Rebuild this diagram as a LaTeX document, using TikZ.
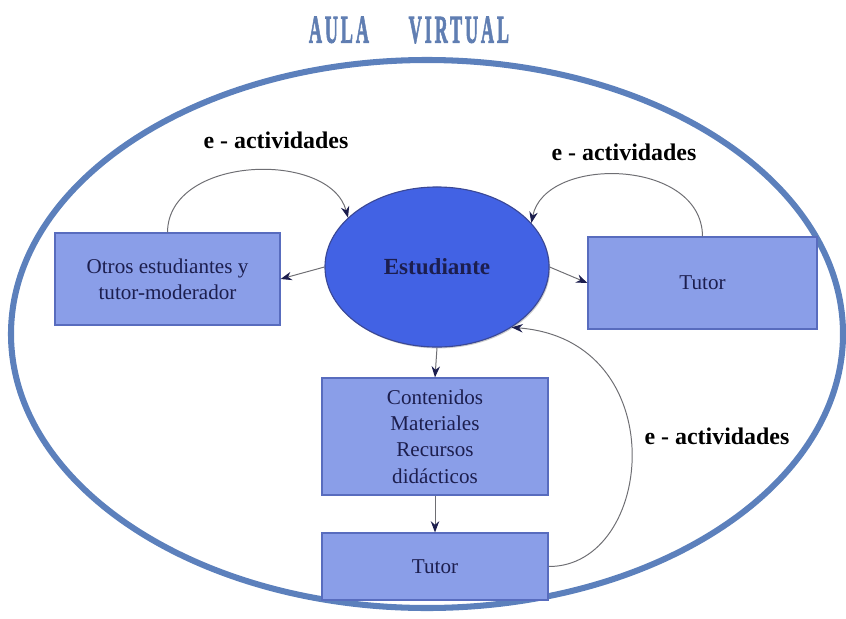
\documentclass[tikz,border=0pt]{standalone}
\usepackage{fontspec}
\setmainfont{Liberation Serif}[BoldFont={Liberation Serif Bold}]
\newfontfamily\titlefont[LetterSpace=16,FakeBold=2.5]{Liberation Serif Bold}
\usetikzlibrary{positioning,shapes.geometric,arrows.meta,shadows}

\definecolor{bordeaula}{RGB}{92,128,188}
\definecolor{cajaazul}{RGB}{138,158,232}
\definecolor{bordecaja}{RGB}{88,108,190}
\definecolor{elipseazul}{RGB}{66,98,228}
\definecolor{bordeelipse}{RGB}{58,72,150}
\definecolor{tinta}{RGB}{28,30,78}
\definecolor{gris}{RGB}{110,110,115}
\definecolor{titulo}{RGB}{96,126,178}

\tikzset{
  caja/.style={draw=bordecaja, fill=cajaazul, line width=0.8pt, align=center,
    inner sep=0pt, text=tinta, font=\fontsize{15}{18.8}\selectfont,
    drop shadow={shadow xshift=0.7pt, shadow yshift=-0.9pt, opacity=0.45}},
  flecha/.style={draw=gris, line width=0.7pt,
    -{Stealth[length=8pt,width=6pt,color=tinta]}},
  etiqueta/.style={font=\bfseries\fontsize{17}{20}\selectfont, text=black}
}

\begin{document}
\begin{tikzpicture}[x=0.025cm,y=-0.025cm]
	\useasboundingbox (0,0) rectangle (846,618);
	%Title and frame
	\node[text=titulo] (titulo) at (409,30)
		{\scalebox{0.46}[1]{\titlefont\fontsize{28}{30}\selectfont AULA\hspace{2.2em}VIRTUAL}};
	\draw[bordeaula, line width=4.3pt] (427,334) ellipse [x radius=416, y radius=274];
	%Nodes
	\node[ellipse, draw=bordeelipse, fill=elipseazul, line width=0.8pt,
		minimum width=5.6cm, minimum height=4cm, inner sep=0pt, text=tinta,
		font=\bfseries\fontsize{16.4}{20}\selectfont,
		drop shadow={shadow xshift=0.8pt, shadow yshift=-1pt, opacity=0.4}]
		(est) at (437,267) {Estudiante};
	\node[caja, minimum width=5.625cm, minimum height=2.3cm] (otros) at (167.5,279)
		{Otros estudiantes y\\tutor-moderador};
	\node[caja, minimum width=5.725cm, minimum height=2.3cm] (tutorR) at (702.5,283) {Tutor};
	\node[caja, minimum width=5.65cm, minimum height=2.925cm] (cont) at (435,436.5)
		{Contenidos\\Materiales\\Recursos\\didácticos};
	\node[caja, minimum width=5.65cm, minimum height=1.675cm] (tutorB) at (435,566.5) {Tutor};
	%Labels
	\node[etiqueta] (lblIzq) at (276,140) {e - actividades};
	\node[etiqueta] (lblDer) at (624,152) {e - actividades};
	\node[etiqueta] (lblAbj) at (717,436) {e - actividades};
	%Straight arrows
	\draw[flecha] (est.west) -- (otros.east);
	\draw[flecha] (est.east) -- (tutorR.west);
	\draw[flecha] (est.south) -- (cont.north);
	\draw[flecha] (cont.south) -- (tutorB.north);
	%Curved arrows
	\draw[flecha] (otros.north) .. controls (168,155) and (330,150) .. (est.151);
	\draw[flecha] (tutorR.north) .. controls (702,158) and (545,155) .. (est.25);
	\draw[flecha] (tutorB.east) .. controls (655,567) and (675,340) .. (est.-39);
\end{tikzpicture}
\end{document}
